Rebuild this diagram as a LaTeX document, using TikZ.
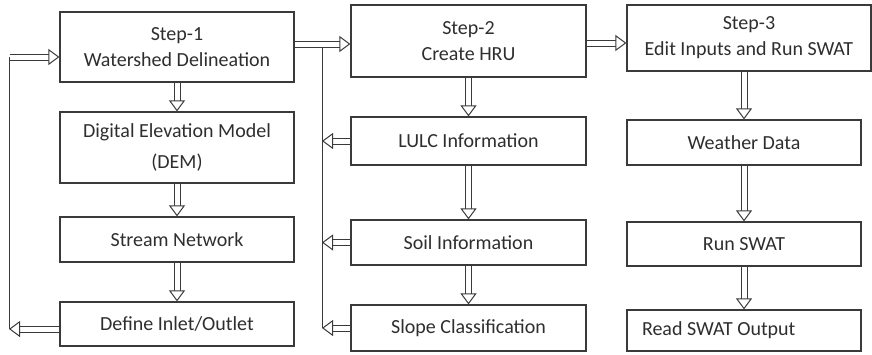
\documentclass[tikz,border=0pt]{standalone}
\usepackage{fontspec}
\setmainfont{Carlito}
\usetikzlibrary{arrows.meta}
\definecolor{trait}{HTML}{3A3A3A}
\definecolor{texte}{HTML}{2E2E2E}
\begin{document}
\begin{tikzpicture}[x=1pt, y=-1pt,
    boite/.style={draw=trait, line width=1.2pt, minimum width=234pt, inner sep=0pt,
      text=texte, align=center, font=\fontsize{20}{26}\selectfont},
    fleche/.style={draw=white, line width=1pt, shorten <=0.6pt,
      -{Triangle[width=16pt, length=11pt, color=trait, fill=white]},
      preaction={draw=trait, double=white, double distance=5pt, -, shorten >=9pt}},
    retour/.style={draw=trait, line width=1pt}]
  \useasboundingbox (0,0) rectangle (872,354);

  % Les boites
  \node[boite, minimum height=70pt] (s1) at (177,47) {Step-1\\Watershed Delineation};
  \node[boite, minimum height=71pt] (dem) at (177,147.5) {Digital Elevation Model\\[5pt](DEM)};
  \node[boite, minimum height=45pt] (stream) at (177,239.5) {Stream Network};
  \node[boite, minimum height=44pt] (inlet) at (177,324) {Define Inlet/Outlet};

  \node[boite, minimum width=235pt, minimum height=72pt] (s2) at (468.5,41) {Step-2\\Create HRU};
  \node[boite, minimum width=235pt, minimum height=48pt] (lulc) at (468.5,141) {LULC Information};
  \node[boite, minimum width=235pt, minimum height=45pt] (soil) at (468.5,242.5) {Soil Information};
  \node[boite, minimum width=235pt, minimum height=46pt] (slope) at (468.5,328) {Slope Classification};

  \node[boite, minimum width=244pt, minimum height=66pt] (s3) at (749,38) {Step-3\\Edit Inputs and Run SWAT};
  \node[boite, minimum height=45pt] (weather) at (744,142.5) {Weather Data};
  \node[boite, minimum height=44pt] (run) at (744,244) {Run SWAT};
  \node[boite, minimum height=41pt, text width=204pt, inner xsep=15pt, align=left] (read) at (744,330.5) {\spaceskip=0pt Read SWAT Output};

  % Les boucles de retour
  \coordinate (g1) at (9,57);
  \coordinate (g2) at (9,329);
  \coordinate (d1) at (322,47);
  \coordinate (d2) at (322,328);
  \draw[retour] (g1) -- (g2);
  \draw[retour] (d1) -- (d2);

  % Les fleches
  \foreach \a/\b in {s1/dem, dem/stream, stream/inlet, s2/lulc, lulc/soil, soil/slope,
                     weather/run, run/read} {
    \draw[fleche] (\a) -- (\b);
  }
  \draw[fleche] (s3.south -| weather) -- (weather);
  \draw[fleche] (s1.east |- 0,44) -- (s2.west |- 0,44);
  \draw[fleche] (s2.east |- 0,43) -- (s3.west |- 0,43);
  \draw[fleche] (g1) -- (s1.west |- g1);
  \draw[fleche] (inlet.west |- g2) -- (g2);
  \draw[fleche] (lulc.west) -- (lulc.west -| d1);
  \draw[fleche] (soil.west) -- (soil.west -| d1);
  \draw[fleche] (slope.west) -- (slope.west -| d1);
\end{tikzpicture}
\end{document}
